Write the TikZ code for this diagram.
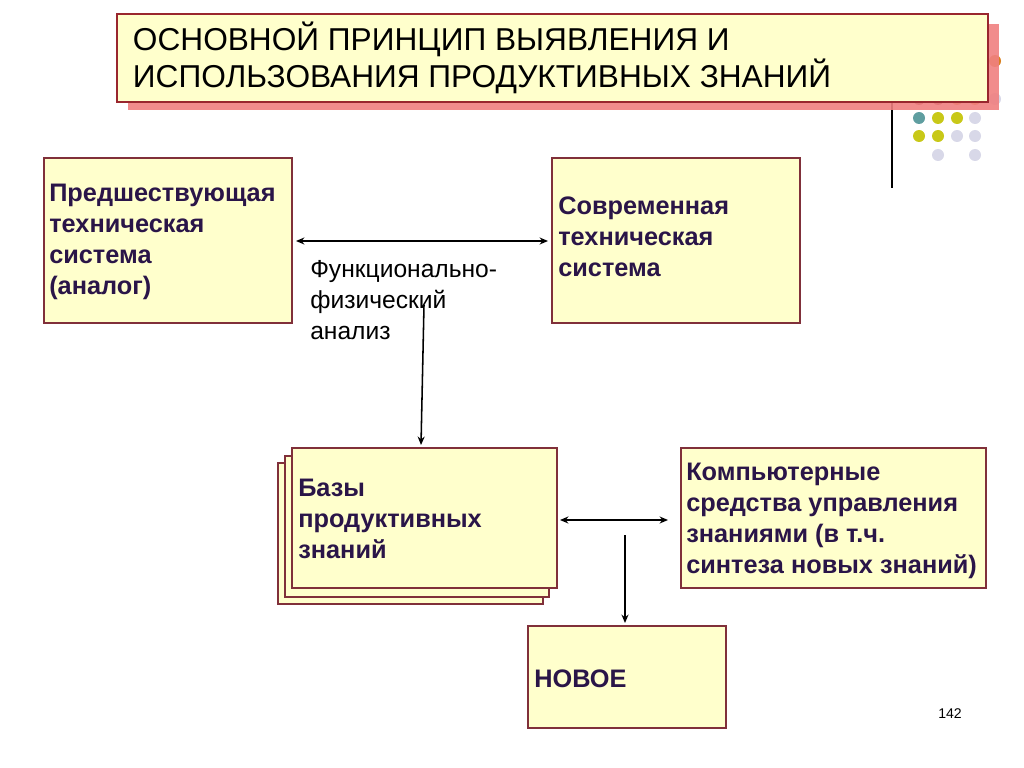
\documentclass[tikz,border=0pt]{standalone}
\usepackage{fontspec}
\setmainfont{Liberation Sans}
\usetikzlibrary{arrows.meta}
\definecolor{pale}{HTML}{FFFFCC}
\definecolor{rim}{HTML}{80303A}
\definecolor{deep}{HTML}{2A1548}
\definecolor{pinkback}{HTML}{F08080}
\definecolor{teal}{HTML}{5F9EA0}
\definecolor{olive}{HTML}{C8C818}
\definecolor{lav}{HTML}{D8D8E8}
\definecolor{rust}{HTML}{D98020}
\begin{document}
\begin{tikzpicture}[x=0.025cm, y=-0.025cm, box/.style={draw=rim, fill=pale, line width=0.9pt}, txt/.style={align=left, anchor=north west, font=\fontsize{18}{22}\selectfont\bfseries, text=deep, inner sep=0pt}, n/.style={-{Stealth[length=6pt,width=5pt]}, line width=1.1pt}, d/.style={{Stealth[length=6pt,width=5pt]}-{Stealth[length=6pt,width=5pt]}, line width=1.1pt}]
    \useasboundingbox (0,0) rectangle (1024,768);
    % decoration
    \foreach \px/\py/\c in {995/61/rust, 919/99/rim, 938/99/rim, 957/99/rust, 975/99/rust, 995/99/lav, 919/118/teal, 938/118/olive, 957/118/olive, 975/118/lav, 919/136/olive, 938/136/olive, 957/136/lav, 975/136/lav, 938/155/lav, 975/155/lav}
        \fill[\c] (\px,\py) circle (6);
    \draw[line width=0.9pt] (892,102) -- (892,188);
    % title
    \fill[pinkback, opacity=0.9] (128,24) rectangle (999,110);
    \draw[draw=rim!80!red, fill=pale, line width=1.4pt] (117,14) rectangle (988,102);
    \node[anchor=west, align=left, font=\fontsize{22.5}{23.5}\selectfont, text=black] (title) at (128,58) {ОСНОВНОЙ ПРИНЦИП ВЫЯВЛЕНИЯ И\\ИСПОЛЬЗОВАНИЯ ПРОДУКТИВНЫХ ЗНАНИЙ};
    % nodes
    \draw[box] (44,158) rectangle (292,323);
    \node[txt] (old) at (49,184) {Предшествующая\\техническая\\система\\(аналог)};
    \draw[box] (552,158) rectangle (800,323);
    \node[txt] (new) at (558,197) {Современная\\техническая\\система};
    \node[align=left, anchor=north west, inner sep=0pt, font=\fontsize{17.5}{22}\selectfont] (ffa) at (310,260) {Функционально-\\физический\\анализ};
    \draw[box] (278,463) rectangle (543,604);
    \draw[box] (285,456) rectangle (549,597);
    \draw[box] (292,448) rectangle (557,588);
    \node[txt] (base) at (298,479) {Базы\\продуктивных\\знаний};
    \draw[box] (681,448) rectangle (986,588);
    \node[txt] (comp) at (686,463) {Компьютерные\\средства управления\\знаниями (в т.ч.\\синтеза новых знаний)};
    \draw[box] (528,626) rectangle (726,728);
    \node[txt, anchor=west] (res) at (534,679) {НОВОЕ};
    \node[font=\fontsize{10}{12}\selectfont] (num) at (950,714) {142};
    % edges
    \coordinate (a1) at (296,241); \coordinate (a2) at (548,241);
    \coordinate (b1) at (424,305); \coordinate (b2) at (421,445);
    \coordinate (c1) at (560,520); \coordinate (c2) at (668,520);
    \coordinate (e1) at (625,535); \coordinate (e2) at (625,623);
    \draw[d] (a1) -- (a2);
    \draw[n] (b1) -- (b2);
    \draw[d] (c1) -- (c2);
    \draw[n] (e1) -- (e2);
\end{tikzpicture}
\end{document}
